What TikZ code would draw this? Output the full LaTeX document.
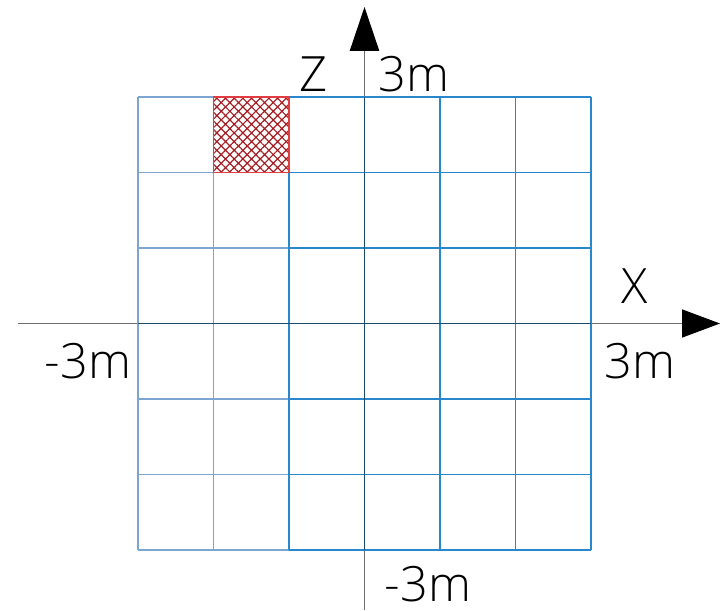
\documentclass[tikz,border=0pt]{standalone}
\usepackage{fontspec}
\setmainfont{Open Sans Light}
\usetikzlibrary{arrows.meta,patterns.meta}
\definecolor{gridlight}{RGB}{125,165,210}
\definecolor{gridblue}{RGB}{40,135,205}
\definecolor{gridcenter}{RGB}{25,75,110}
\definecolor{axisgray}{RGB}{110,110,110}
\definecolor{hatchred}{RGB}{165,30,35}
\definecolor{borderred}{RGB}{225,60,65}
\begin{document}
\begin{tikzpicture}[x=0.75pt,y=-0.75pt,
  lab/.style={font=\fontsize{36.5}{42}\selectfont, inner sep=0pt, text=black},
  lightline/.style={draw=gridlight, line width=1.1pt},
  blueline/.style={draw=gridblue, line width=1.1pt},
  centerline/.style={draw=gridcenter, line width=1.1pt},
  axisline/.style={draw=axisgray, line width=1.1pt}]
\useasboundingbox (0,0) rectangle (720,610);
% axes
\coordinate (xl) at (18,323.5);
\coordinate (xr) at (720,323.5);
\coordinate (zb) at (364.5,610);
\coordinate (zt) at (364.5,7);
\draw[axisline, -{Triangle[length=28.5pt,width=21pt,black]}] (xl) -- (xr);
\draw[axisline, -{Triangle[length=33pt,width=22pt,black]}] (zb) -- (zt);
% hatched cell
\path[pattern={Hatch[angle=45,distance=4.6pt,line width=0.9pt]}, pattern color=hatchred]
  (213.5,97) rectangle (289,172.5);
% light part of the grid
\foreach \x in {138,213.5} \draw[lightline] (\x,97) -- (\x,550);
\foreach \y in {97,172.5,248,399,474.5,550} \draw[lightline] (138,\y) -- (289,\y);
% blue part of the grid
\foreach \x in {289,440,515.5,591} \draw[blueline] (\x,97) -- (\x,550);
\foreach \y in {97,172.5,248,399,474.5,550} \draw[blueline] (289,\y) -- (591,\y);
% centre lines of the grid (on the axes)
\draw[centerline] (364.5,97) -- (364.5,550);
\draw[centerline] (138,323.5) -- (591,323.5);
% hatched cell border
\draw[draw=borderred, line width=1.1pt] (213.5,97) rectangle (289,172.5);
% labels
\node[lab] (zlab) at (314,74) {Z};
\node[lab] (ztop) at (414,74) {3m};
\node[lab] (xlab) at (635,286) {X};
\node[lab] (xpos) at (640,361) {3m};
\node[lab] (xneg) at (88,361) {-3m};
\node[lab] (zneg) at (428,584) {-3m};
\end{tikzpicture}
\end{document}
